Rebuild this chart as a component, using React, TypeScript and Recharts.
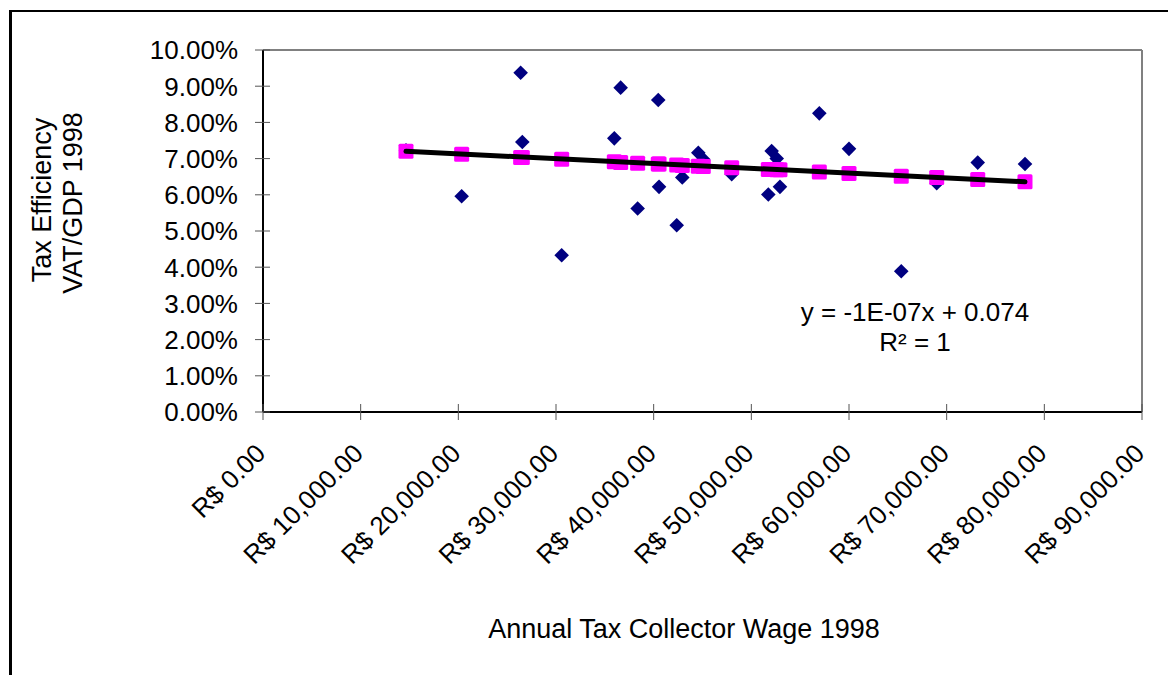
import React from 'react';
import { ScatterChart, Scatter, XAxis, YAxis, ReferenceLine } from 'recharts';

// annual tax collector wage (R$) per state, 1998
const wages = [
  14640, 20340, 26380, 26550, 30580, 35970, 36620, 38360, 40470, 40550, 42360, 42930, 44570,
  45080, 47990, 51740, 52080, 52600, 52930, 56960, 60000, 65350, 68980, 73180, 78020,
];

// VAT / GDP 1998
const vatShare = [
  0.0723, 0.0596, 0.0937, 0.0746, 0.0433, 0.0756, 0.0896, 0.0562, 0.0862, 0.0622, 0.0516, 0.0648,
  0.0716, 0.0698, 0.0657, 0.0601, 0.0721, 0.07, 0.0622, 0.0825, 0.0727, 0.0389, 0.0632, 0.0689,
  0.0685,
];

// linear trend values (pink markers)
const trendFit = [
  0.072, 0.0712, 0.0703, 0.0703, 0.0698, 0.0691, 0.0689, 0.0687, 0.0685, 0.0685, 0.0682, 0.0681,
  0.0679, 0.0678, 0.0675, 0.067, 0.067, 0.0669, 0.0669, 0.0663, 0.0659, 0.0651, 0.0648, 0.0642,
  0.0636,
];

const xTicks = [0, 10000, 20000, 30000, 40000, 50000, 60000, 70000, 80000, 90000];
const yTicks = [0, 0.01, 0.02, 0.03, 0.04, 0.05, 0.06, 0.07, 0.08, 0.09, 0.1];

const equationLines = ['y = -1E-07x + 0.074', 'R² = 1'];

const observed = wages.map((w, i) => ({ wage: w, vat: vatShare[i] }));
const fitted = wages.map((w, i) => ({ wage: w, vat: trendFit[i] }));
const trendLine = [fitted[0], fitted[fitted.length - 1]];

const FONT = '"Liberation Sans", Arial, sans-serif';

const fmtMoney = (v: number) =>
  'R$ ' + v.toLocaleString('en-US', { minimumFractionDigits: 2, maximumFractionDigits: 2 });

const XTick = (props: any) => {
  const { x, y, payload } = props;
  return (
    <g>
      <line x1={x} y1={y - 16} x2={x} y2={y} stroke="#555" strokeWidth={1} />
      <g transform={`translate(${x + 4},${y + 35})`}>
        <text transform="rotate(-45)" textAnchor="end" fontSize={26} fontFamily={FONT} fill="#000">
          {fmtMoney(payload.value)}
        </text>
      </g>
    </g>
  );
};

const YTick = (props: any) => {
  const { x, y, payload } = props;
  return (
    <g>
      <line x1={x} y1={y} x2={x + 15} y2={y} stroke="#555" strokeWidth={1} />
      <text x={x - 17} y={y} dy="0.36em" textAnchor="end" fontSize={26} fontFamily={FONT} fill="#000">
        {(payload.value * 100).toFixed(2) + '%'}
      </text>
    </g>
  );
};

const Diamond = (props: any) => {
  const { cx, cy } = props;
  const r = 7.3;
  return (
    <polygon
      points={`${cx},${cy - r} ${cx + r},${cy} ${cx},${cy + r} ${cx - r},${cy}`}
      fill="#000080"
    />
  );
};

const PinkSquare = (props: any) => {
  const { cx, cy } = props;
  return <rect x={cx - 7.5} y={cy - 7.5} width={15} height={15} rx={1.5} fill="#FF00FF" />;
};

const Nothing = () => <g />;

const YLabel = () => (
  <g fontSize={27} fontFamily={FONT} fill="#000">
    <text transform="translate(51,200) rotate(-90)" textAnchor="middle">
      Tax Efficiency
    </text>
    <text transform="translate(81.5,203) rotate(-90)" textAnchor="middle">
      VAT/GDP 1998
    </text>
  </g>
);

const XLabel = () => (
  <text x={684} y={638} textAnchor="middle" fontSize={27} fontFamily={FONT} fill="#000">
    Annual Tax Collector Wage 1998
  </text>
);

export default function App() {
  return (
    <div
      style={{
        position: 'absolute',
        left: 0,
        top: 0,
        width: 1168,
        height: 675,
        overflow: 'hidden',
        background: '#fff',
      }}
    >
      <div
        style={{
          position: 'absolute',
          left: 9,
          top: 10,
          width: 1300,
          height: 800,
          borderLeft: '3px solid #000',
          borderTop: '2px solid #000',
        }}
      />
      <div style={{ position: 'absolute', left: 0, top: 0 }}>
        <ScatterChart width={1168} height={675} margin={{ top: 50, right: 26, bottom: 163, left: 0 }}>
          <XAxis
            type="number"
            dataKey="wage"
            domain={[0, 90000]}
            ticks={xTicks}
            interval={0}
            height={100}
            tickSize={8}
            tickMargin={0}
            tickLine={false}
            axisLine={{ stroke: '#000', strokeWidth: 2 }}
            tick={<XTick />}
            label={{ content: <XLabel /> }}
          />
          <YAxis
            type="number"
            dataKey="vat"
            domain={[0, 0.1]}
            ticks={yTicks}
            interval={0}
            width={263}
            tickSize={8}
            tickMargin={0}
            tickLine={false}
            axisLine={{ stroke: '#000', strokeWidth: 2 }}
            tick={<YTick />}
            label={{ content: <YLabel /> }}
          />
          <ReferenceLine y={0.1} stroke="#808080" strokeWidth={2} />
          <ReferenceLine x={90000} stroke="#808080" strokeWidth={2} />
          <Scatter data={observed} shape={<Diamond />} isAnimationActive={false} />
          <Scatter data={fitted} shape={<PinkSquare />} isAnimationActive={false} />
          <Scatter
            data={trendLine}
            shape={<Nothing />}
            line={{ stroke: '#000', strokeWidth: 5, strokeLinecap: 'round' }}
            isAnimationActive={false}
          />
        </ScatterChart>
      </div>
      <div
        style={{
          position: 'absolute',
          left: 765,
          top: 297,
          width: 300,
          textAlign: 'center',
          fontFamily: FONT,
          fontSize: 26,
          lineHeight: '30px',
          color: '#000',
        }}
      >
        {equationLines.map((l) => (
          <div key={l}>{l}</div>
        ))}
      </div>
    </div>
  );
}
